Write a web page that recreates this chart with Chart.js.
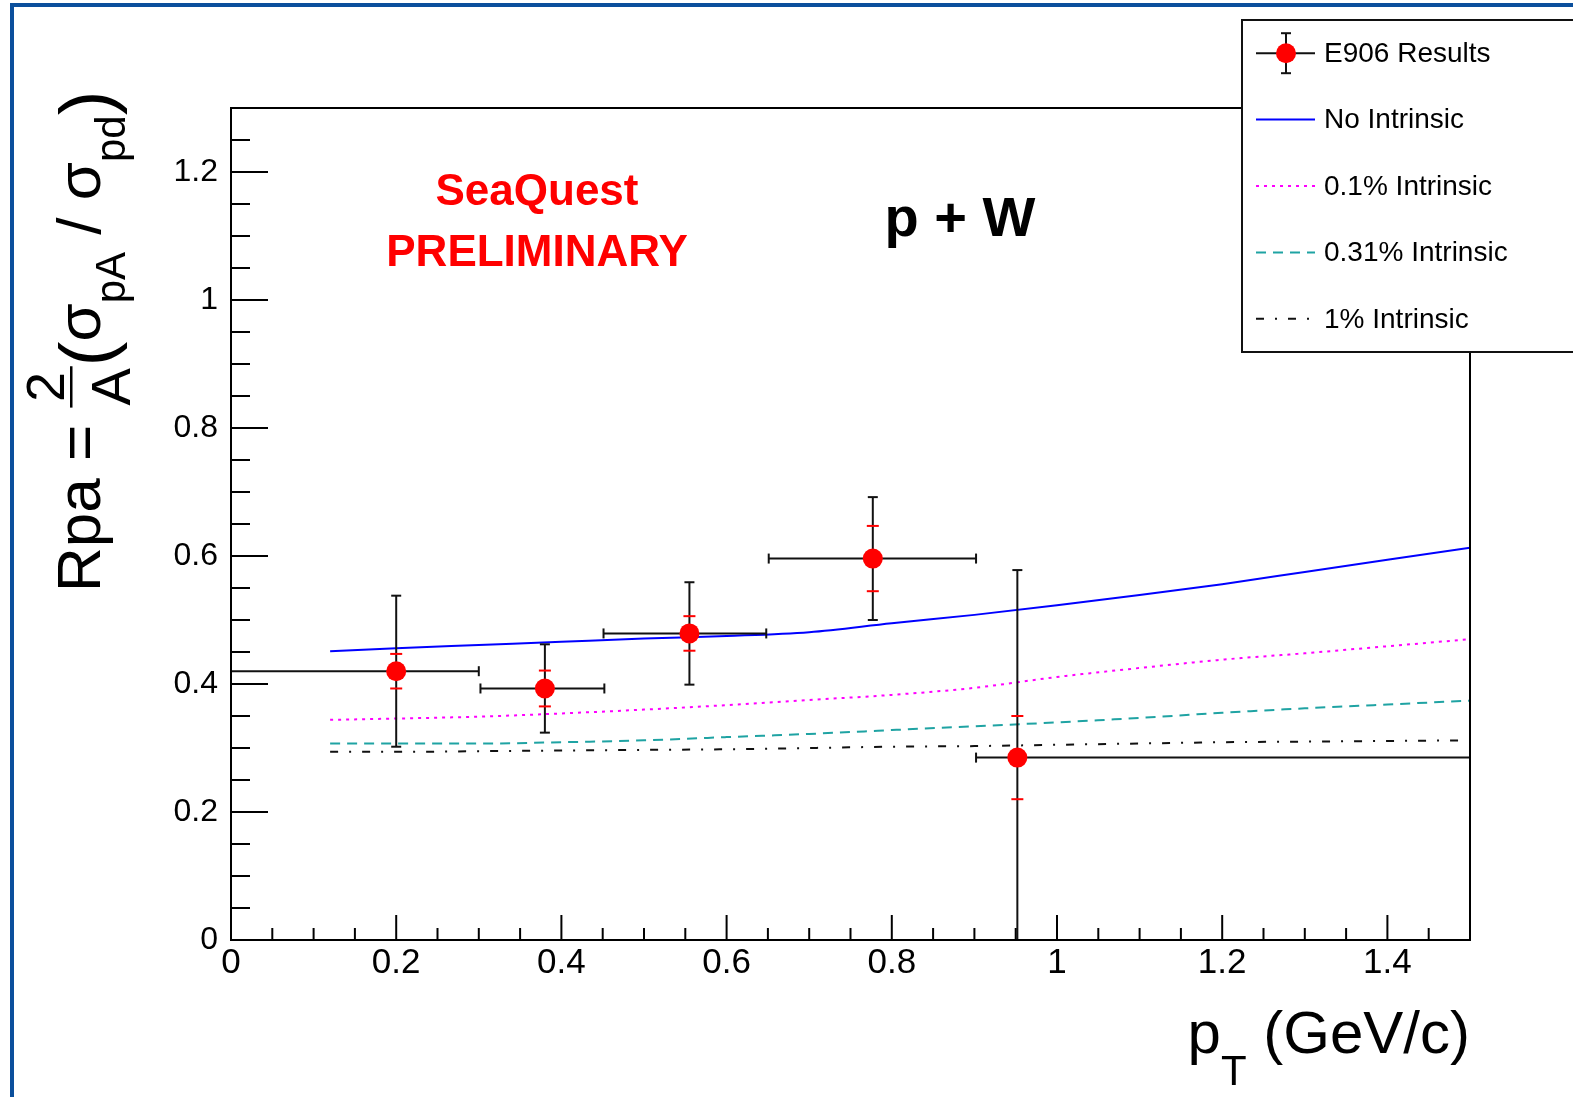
<!DOCTYPE html>
<html>
<head>
<meta charset="utf-8">
<script src="https://cdn.jsdelivr.net/npm/chart.js@4.4.1/dist/chart.umd.min.js"></script>
<style>
html, body { margin: 0; padding: 0; background: #fff; }
canvas { display: block; }
</style>
</head>
<body>
<canvas id="rpa" width="1573" height="1097"></canvas>
<script>
// E906 points (p + W)
const ptX    = [0.20, 0.38, 0.555, 0.777, 0.952];
const rpa    = [0.420, 0.393, 0.479, 0.596, 0.285];
const binLo  = [0.00, 0.302, 0.451, 0.651, 0.902];
const binHi  = [0.30, 0.452, 0.648, 0.902, 1.50];
const statErr = [0.027, 0.028, 0.027, 0.051, 0.065];
const totErr  = [0.118, 0.069, 0.080, 0.096, 0.293];

// model curves
const curveX      = [0.12, 0.2, 0.3, 0.4, 0.5, 0.6, 0.7, 0.8, 0.9, 1.0, 1.1, 1.2, 1.3, 1.4, 1.5];
const noIntrinsic = [0.451, 0.456, 0.461, 0.466, 0.471, 0.475, 0.481, 0.495, 0.508, 0.523, 0.539, 0.556, 0.575, 0.594, 0.613];
const intr01      = [0.344, 0.346, 0.349, 0.354, 0.360, 0.367, 0.375, 0.383, 0.394, 0.411, 0.425, 0.438, 0.448, 0.459, 0.470];
const intr031     = [0.307, 0.307, 0.307, 0.309, 0.312, 0.317, 0.322, 0.328, 0.334, 0.340, 0.347, 0.355, 0.362, 0.368, 0.374];
const intr1       = [0.294, 0.294, 0.295, 0.296, 0.297, 0.298, 0.300, 0.302, 0.303, 0.305, 0.307, 0.309, 0.310, 0.311, 0.312];

const FONT = "'Liberation Sans', Arial, Helvetica, sans-serif";
const fmt = v => String(Number(v.toFixed(1)));

function curve(label, ys, color, dash) {
    return {
        label: label,
        data: curveX.map((x, i) => ({ x: x, y: ys[i] })),
        showLine: true,
        borderColor: color,
        borderWidth: 2,
        borderDash: dash,
        pointRadius: 0,
        cubicInterpolationMode: 'monotone'
    };
}

function seg(ctx, x1, y1, x2, y2) {
    ctx.beginPath(); ctx.moveTo(x1, y1); ctx.lineTo(x2, y2); ctx.stroke();
}

// draw a run of text pieces one after another
function textRun(ctx, pieces, x0, y0) {
    let x = x0;
    pieces.forEach(p => {
        if (p.frac) {
            ctx.font = p.size + 'px ' + FONT;
            const wn = ctx.measureText(p.num).width;
            ctx.font = p.dsize + 'px ' + FONT;
            const wd = ctx.measureText(p.den).width;
            const w = Math.max(wn, wd) + 4;
            ctx.font = p.size + 'px ' + FONT;
            ctx.fillText(p.num, x + (w - wn) / 2, y0 + p.ny);
            ctx.font = p.dsize + 'px ' + FONT;
            ctx.fillText(p.den, x + (w - wd) / 2, y0 + p.dy);
            ctx.fillRect(x, y0 + p.by - 1, w, 2.5);
            x += w;
            return;
        }
        ctx.font = (p.bold ? 'bold ' : '') + p.size + 'px ' + FONT;
        ctx.fillText(p.t, x, y0 + (p.dy || 0));
        x += ctx.measureText(p.t).width;
    });
    return x - x0;
}

const rootStyle = {
    id: 'rootStyle',
    beforeDraw(chart) {
        const ctx = chart.ctx;
        ctx.save();
        ctx.fillStyle = '#fff';
        ctx.fillRect(0, 0, chart.width, chart.height);
        ctx.fillStyle = '#0b4f9c';
        ctx.fillRect(10, 3, 4, chart.height);
        ctx.fillRect(10, 3, chart.width, 4);
        ctx.restore();
    },
    beforeDatasetDraw(chart, args) {
        if (args.index !== 0) return;
        const { ctx, chartArea: a, scales: { x, y } } = chart;
        ctx.save();
        ctx.beginPath();
        ctx.rect(a.left, a.top, a.right - a.left, a.bottom - a.top);
        ctx.clip();
        ctx.lineWidth = 2;
        ptX.forEach((px, i) => {
            const cx = x.getPixelForValue(px), cy = y.getPixelForValue(rpa[i]);
            const xl = x.getPixelForValue(binLo[i]), xr = x.getPixelForValue(binHi[i]);
            const yt = y.getPixelForValue(rpa[i] + totErr[i]), yb = y.getPixelForValue(rpa[i] - totErr[i]);
            ctx.strokeStyle = '#111';
            seg(ctx, xl, cy, xr, cy);
            seg(ctx, xl, cy - 5, xl, cy + 5);
            seg(ctx, xr, cy - 5, xr, cy + 5);
            seg(ctx, cx, yt, cx, yb);
            seg(ctx, cx - 5, yt, cx + 5, yt);
            seg(ctx, cx - 5, yb, cx + 5, yb);
            ctx.strokeStyle = '#ff0000';
            const s1 = y.getPixelForValue(rpa[i] + statErr[i]), s2 = y.getPixelForValue(rpa[i] - statErr[i]);
            seg(ctx, cx - 6, s1, cx + 6, s1);
            seg(ctx, cx - 6, s2, cx + 6, s2);
        });
        ctx.restore();
    },
    afterDraw(chart) {
        const { ctx, chartArea: a, scales: { x, y } } = chart;
        ctx.save();
        ctx.strokeStyle = '#000';
        ctx.fillStyle = '#000';
        ctx.lineWidth = 2;
        // frame
        ctx.strokeRect(a.left, a.top, a.right - a.left, a.bottom - a.top);
        // ticks, pointing into the frame
        for (let k = 0; k <= 26; k++) {
            const py = y.getPixelForValue(k * 0.05);
            if (py < a.top + 1) continue;
            seg(ctx, a.left, py, a.left + (k % 4 === 0 ? 37 : 19), py);
        }
        for (let k = 0; k <= 30; k++) {
            const px = x.getPixelForValue(k * 0.05);
            seg(ctx, px, a.bottom, px, a.bottom - (k % 4 === 0 ? 25 : 12));
        }

        // labels on the pad
        ctx.textAlign = 'center';
        ctx.textBaseline = 'alphabetic';
        ctx.fillStyle = '#ff0000';
        ctx.font = 'bold 44px ' + FONT;
        ctx.fillText('SeaQuest', 537, 205);
        ctx.fillText('PRELIMINARY', 537, 266);
        ctx.fillStyle = '#000';
        ctx.font = 'bold 56px ' + FONT;
        ctx.fillText('p + W', 960, 236);

        // x axis title, right aligned to the frame
        ctx.textAlign = 'left';
        const xt = [
            { t: 'p', size: 60 },
            { t: 'T', size: 42, dy: 32 },
            { t: ' (GeV/c)', size: 60 }
        ];
        ctx.globalAlpha = 0;
        const wx = textRun(ctx, xt, 0, -100);
        ctx.globalAlpha = 1;
        textRun(ctx, xt, a.right - wx, 1053);

        // y axis title, rotated
        ctx.save();
        ctx.translate(100, 0);
        ctx.rotate(-Math.PI / 2);
        textRun(ctx, [
            { t: 'Rpa = ', size: 62 },
            { frac: true, num: '2', den: 'A', size: 54, dsize: 56, ny: -36, dy: 30, by: -29 },
            { t: '(', size: 74, dy: 12 },
            { t: 'σ', size: 62 },
            { t: 'pA', size: 42, dy: 25 },
            { t: ' / ', size: 62 },
            { t: 'σ', size: 62 },
            { t: 'pd', size: 42, dy: 25 },
            { t: ')', size: 74, dy: 12 }
        ], -592, 0);
        ctx.restore();

        // legend box
        const lx = 1242, ly = 20, lh = 332;
        ctx.fillStyle = '#fff';
        ctx.fillRect(lx, ly, chart.width, lh);
        ctx.strokeStyle = '#111';
        ctx.strokeRect(lx, ly, chart.width, lh);
        const rowH = lh / 5;
        const ds = chart.data.datasets;
        ctx.font = '28px ' + FONT;
        ctx.textBaseline = 'middle';
        ds.forEach((d, r) => {
            const cy = ly + rowH * (r + 0.5);
            ctx.save();
            ctx.lineWidth = 2;
            if (r === 0) {
                ctx.strokeStyle = '#111';
                seg(ctx, 1256, cy, 1315, cy);
                seg(ctx, 1286, cy - 20, 1286, cy + 20);
                seg(ctx, 1281, cy - 20, 1291, cy - 20);
                seg(ctx, 1281, cy + 20, 1291, cy + 20);
                ctx.fillStyle = '#ff0000';
                ctx.beginPath(); ctx.arc(1286, cy, 10, 0, Math.PI * 2); ctx.fill();
            } else {
                ctx.strokeStyle = d.borderColor;
                ctx.setLineDash(d.borderDash || []);
                seg(ctx, 1256, cy, 1315, cy);
            }
            ctx.restore();
            ctx.fillStyle = '#000';
            ctx.fillText(d.label, 1324, cy + 1);
        });
        ctx.restore();
    }
};

const chart = new Chart(document.getElementById('rpa'), {
    type: 'scatter',
    data: {
        datasets: [
            {
                label: 'E906 Results',
                data: ptX.map((x, i) => ({ x: x, y: rpa[i] })),
                pointRadius: 10,
                pointBackgroundColor: '#ff0000',
                pointBorderColor: '#ff0000',
                pointBorderWidth: 0,
                showLine: false
            },
            curve('No Intrinsic', noIntrinsic, '#0000ff', []),
            curve('0.1% Intrinsic', intr01, '#ff00ff', [3, 5]),
            curve('0.31% Intrinsic', intr031, '#1fa3a3', [10, 7]),
            curve('1% Intrinsic', intr1, '#111111', [8, 11, 2, 11])
        ]
    },
    options: {
        responsive: false,
        animation: false,
        layout: { padding: { left: 0, top: 108, right: 103, bottom: 0 } },
        plugins: { legend: { display: false }, tooltip: { enabled: false } },
        scales: {
            x: {
                type: 'linear', min: 0, max: 1.5,
                afterFit: s => { s.height = 157; },
                grid: { display: false, drawTicks: false },
                border: { display: false },
                ticks: {
                    stepSize: 0.2, includeBounds: false, autoSkip: false, maxRotation: 0,
                    padding: 2, color: '#000', font: { family: FONT, size: 35 },
                    callback: v => fmt(v)
                }
            },
            y: {
                type: 'linear', min: 0, max: 1.3,
                afterFit: s => { s.width = 231; },
                grid: { display: false, drawTicks: false },
                border: { display: false },
                ticks: {
                    stepSize: 0.2, includeBounds: false, autoSkip: false,
                    padding: 13, color: '#000', font: { family: FONT, size: 32 },
                    callback: v => fmt(v)
                }
            }
        }
    },
    plugins: [rootStyle]
});
</script>
</body>
</html>
